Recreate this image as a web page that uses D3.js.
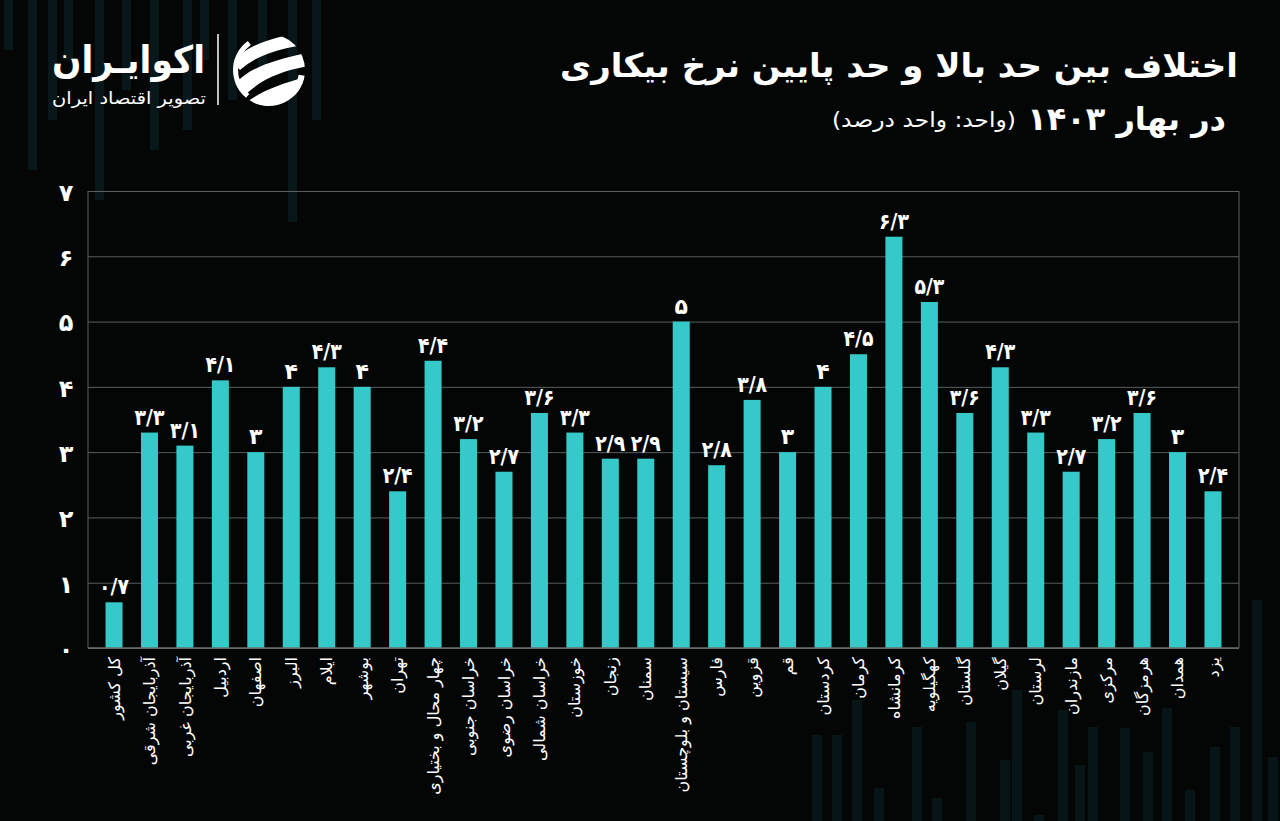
<!DOCTYPE html>
<html>
<head>
<meta charset="utf-8">
<script src="https://cdn.jsdelivr.net/npm/d3@7"></script>
<style>
  html, body { margin: 0; padding: 0; background: #040606; }
  svg { display: block; }
  text { font-family: "DejaVu Sans", "Noto Sans", sans-serif; }
</style>
</head>
<body>
<svg id="chart" width="1280" height="821"></svg>
<script>
// ---------- data ----------
const categories = [
  "کل کشور", "آذربایجان شرقی", "آذربایجان غربی", "اردبیل", "اصفهان", "البرز",
  "ایلام", "بوشهر", "تهران", "چهار محال و بختیاری", "خراسان جنوبی", "خراسان رضوی",
  "خراسان شمالی", "خوزستان", "زنجان", "سمنان", "سیستان و بلوچستان", "فارس",
  "قزوین", "قم", "کردستان", "کرمان", "کرمانشاه", "کهگیلویه", "گلستان", "گیلان",
  "لرستان", "مازندران", "مرکزی", "هرمزگان", "همدان", "یزد"
];
const values = [
  0.7, 3.3, 3.1, 4.1, 3, 4,
  4.3, 4, 2.4, 4.4, 3.2, 2.7,
  3.6, 3.3, 2.9, 2.9, 5, 2.8,
  3.8, 3, 4, 4.5, 6.3, 5.3, 3.6, 4.3,
  3.3, 2.7, 3.2, 3.6, 3, 2.4
];
const yTicks = [0, 1, 2, 3, 4, 5, 6, 7];
const titleLine1 = "اختلاف بین حد بالا و حد پایین نرخ بیکاری";
const titleLine2 = "در بهار ۱۴۰۳";
const unitText = "(واحد: واحد درصد)";
const brandName = "اکوایـران";
const brandTagline = "تصویر اقتصاد ایران";

// decorative background strips (not data)
const decoTop = [
  [4, 0, 50], [28, 0, 170], [48, 0, 120], [64, 0, 60], [95, 0, 200], [122, 0, 90],
  [150, 0, 150], [183, 0, 130], [200, 0, 60], [228, 0, 100], [258, 0, 70], [288, 0, 222], [312, 0, 120]
];
const decoBottom = [
  [812, 735, 821], [832, 735, 821], [852, 700, 821], [874, 788, 821], [912, 727, 821],
  [932, 798, 821], [966, 722, 821], [1000, 760, 821], [1012, 690, 821], [1034, 815, 821],
  [1058, 710, 821], [1075, 765, 821], [1088, 727, 821], [1120, 728, 821], [1143, 752, 821],
  [1162, 708, 821], [1185, 790, 821], [1210, 747, 821], [1230, 727, 821], [1252, 600, 821], [1268, 757, 821]
];

// ---------- helpers ----------
const faDigits = "۰۱۲۳۴۵۶۷۸۹";
const toFa = v => String(v).replace(".", "/").replace(/\d/g, d => faDigits[+d]);

const svg = d3.select("#chart");
const W = 1280, H = 821;

svg.append("rect").attr("width", W).attr("height", H).attr("fill", "#040606");

// decorations
const deco = svg.append("g");
deco.selectAll("rect.dt").data(decoTop).join("rect")
  .attr("x", d => d[0]).attr("y", d => d[1]).attr("width", 9).attr("height", d => d[2] - d[1])
  .attr("fill", "#0c2328").attr("opacity", 0.6);
deco.selectAll("rect.db").data(decoBottom).join("rect")
  .attr("x", d => d[0]).attr("y", d => d[1]).attr("width", 10).attr("height", d => d[2] - d[1])
  .attr("fill", "#0b2226").attr("opacity", 0.55);

// ---------- plot area ----------
const plot = { left: 88, right: 1239, top: 191, bottom: 648 };

const x = d3.scaleBand()
  .domain(categories)
  .range([96.3, 1230.7])
  .paddingInner(0.52)
  .paddingOuter(0.26);

const y = d3.scaleLinear().domain([0, 7]).range([plot.bottom, plot.top]);

// gridlines + y labels
const yAxis = d3.axisLeft(y).tickValues(yTicks).tickFormat(toFa)
  .tickSize(-(plot.right - plot.left)).tickPadding(0);
const gy = svg.append("g").attr("transform", `translate(${plot.left},0)`).call(yAxis);
gy.select(".domain").remove();
gy.selectAll(".tick line").attr("stroke", "#5a5e5e").attr("stroke-width", 1);
gy.selectAll(".tick text")
  .attr("x", -22).attr("dy", "0.35em").attr("y", 1)
  .attr("text-anchor", "middle")
  .attr("fill", "#ffffff")
  .style("font-size", "24px").style("font-weight", "bold");

// frame verticals
svg.append("line").attr("x1", plot.left).attr("x2", plot.left).attr("y1", plot.top).attr("y2", plot.bottom)
  .attr("stroke", "#5a5e5e");
svg.append("line").attr("x1", plot.right).attr("x2", plot.right).attr("y1", plot.top).attr("y2", plot.bottom)
  .attr("stroke", "#5a5e5e");

// bars
const data = categories.map((c, i) => ({ c, v: values[i] }));
svg.append("g").selectAll("rect").data(data).join("rect")
  .attr("x", d => x(d.c))
  .attr("y", d => y(d.v))
  .attr("width", x.bandwidth())
  .attr("height", d => y(0) - y(d.v))
  .attr("fill", "#35c9c9");

// bottom axis line
svg.append("line").attr("x1", plot.left).attr("x2", plot.right).attr("y1", plot.bottom).attr("y2", plot.bottom)
  .attr("stroke", "#6a6e6e").attr("stroke-width", 1.5);

// value labels
const vl = svg.append("g").selectAll("text").data(data).join("text")
  .attr("x", d => x(d.c) + x.bandwidth() / 2)
  .attr("y", d => y(d.v) - 8)
  .attr("text-anchor", "middle")
  .attr("direction", "ltr")
  .attr("fill", "#ffffff")
  .style("font-size", "22px").style("font-weight", "bold")
  .text(d => toFa(d.v));
vl.filter(d => String(d.v).includes("."))
  .attr("textLength", 30).attr("lengthAdjust", "spacingAndGlyphs");

// category labels
const xAxis = d3.axisBottom(x).tickSize(0).tickPadding(0);
const gx = svg.append("g").attr("transform", `translate(0,${plot.bottom})`).call(xAxis);
gx.select(".domain").remove();
gx.selectAll(".tick text")
  .attr("transform", "translate(0,9) rotate(-90)")
  .attr("x", 0).attr("y", 0).attr("dy", "0.35em")
  .attr("text-anchor", "end")
  .attr("fill", "#ffffff")
  .style("font-size", "16px");

// ---------- titles ----------
svg.append("text")
  .attr("x", 1238).attr("y", 77)
  .attr("text-anchor", "end")
  .attr("fill", "#ffffff")
  .attr("textLength", 678).attr("lengthAdjust", "spacingAndGlyphs")
  .style("font-size", "33px").style("font-weight", "bold")
  .text(titleLine1);

svg.append("text")
  .attr("x", 1226).attr("y", 130)
  .attr("text-anchor", "end")
  .attr("fill", "#ffffff")
  .style("font-size", "32px").style("font-weight", "bold")
  .text(titleLine2);
svg.append("text")
  .attr("x", 1016).attr("y", 127)
  .attr("text-anchor", "end")
  .attr("fill", "#ffffff")
  .attr("textLength", 184).attr("lengthAdjust", "spacingAndGlyphs")
  .style("font-size", "21px")
  .text(unitText);

// ---------- logo ----------
const logo = svg.append("g");
logo.append("text").attr("x", 205).attr("y", 73).attr("text-anchor", "end")
  .attr("fill", "#ffffff").style("font-size", "38px").style("font-weight", "bold")
  .attr("textLength", 153).attr("lengthAdjust", "spacingAndGlyphs")
  .text(brandName);
logo.append("text").attr("x", 206).attr("y", 104).attr("text-anchor", "end")
  .attr("fill", "#ffffff").style("font-size", "17px")
  .attr("textLength", 154).attr("lengthAdjust", "spacingAndGlyphs")
  .text(brandTagline);
logo.append("line").attr("x1", 218).attr("x2", 218).attr("y1", 34).attr("y2", 105)
  .attr("stroke", "#ffffff").attr("stroke-width", 1.5);

const defs = svg.append("defs");
defs.append("clipPath").attr("id", "logoClip").append("circle")
  .attr("cx", 269).attr("cy", 70).attr("r", 36);
const icon = logo.append("g").attr("clip-path", "url(#logoClip)");
const bands = [
  "M232,62 C248,44 272,38 310,30 L310,44 C282,48 258,54 240,70 Z",
  "M233,86 C250,66 275,60 310,52 L310,66 C285,70 262,78 244,96 Z",
  "M238,110 C256,92 280,84 310,76 L310,90 C288,96 268,104 256,114 Z"
];
icon.selectAll("path").data(bands).join("path").attr("d", d => d).attr("fill", "#ffffff");
logo.append("path")
  .attr("d", d3.arc()({ innerRadius: 31, outerRadius: 36, startAngle: -Math.PI * 0.78, endAngle: -Math.PI * 0.2 }))
  .attr("transform", "translate(269,70)")
  .attr("fill", "#ffffff");
logo.append("path")
  .attr("d", d3.arc()({ innerRadius: 30, outerRadius: 36, startAngle: Math.PI * 0.55, endAngle: Math.PI * 1.15 }))
  .attr("transform", "translate(269,70)")
  .attr("fill", "#ffffff");
</script>
</body>
</html>
